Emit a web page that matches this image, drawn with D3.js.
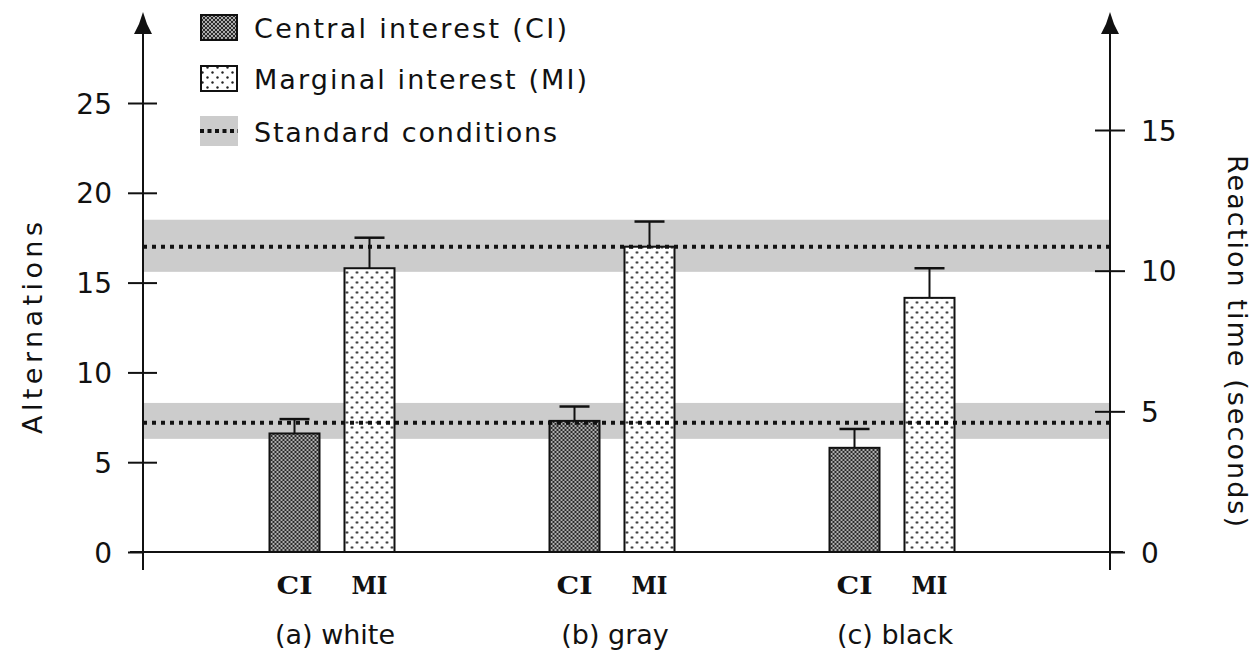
<!DOCTYPE html>
<html>
<head>
<meta charset="utf-8">
<script src="https://cdn.jsdelivr.net/npm/d3@7"></script>
<style>
  body { margin: 0; background: #fff; }
  text { font-family: "DejaVu Sans", sans-serif; fill: #111; }
</style>
</head>
<body>
<svg id="canvas"></svg>
<script>
const width = 1255;
const height = 655;

// data
const groups = ["(a) white", "(b) gray", "(c) black"];
const conditions = ["CI", "MI"];
const ciMeans = [6.6, 7.3, 5.8];
const ciErrors = [0.8, 0.8, 1.05];
const miMeans = [15.8, 17.0, 14.15];
const miErrors = [1.7, 1.4, 1.65];
const stdMeans = [17.0, 7.2];
const stdLow = [15.6, 6.3];
const stdHigh = [18.5, 8.3];
const leftTicks = [0, 5, 10, 15, 20, 25];
const rightTicks = [0, 5, 10, 15];
const legendLabels = ["Central interest (CI)", "Marginal interest (MI)", "Standard conditions"];

const svg = d3.select("#canvas")
  .attr("width", width)
  .attr("height", height);

const axisLeftX = 143, axisRightX = 1110, baseY = 552;

const y = d3.scaleLinear().domain([0, 25]).range([baseY, 103]);
const yRight = d3.scaleLinear().domain([0, 15]).range([baseY, 130]);

const x0 = d3.scaleBand().domain(groups).range([192, 1032]);
const x1 = d3.scaleBand().domain(conditions)
  .range([x0.bandwidth() / 2 - 62.5, x0.bandwidth() / 2 + 62.5])
  .paddingInner(1 / 3).paddingOuter(0);

// patterns
const defs = svg.append("defs");
const pCI = defs.append("pattern").attr("id", "pat-ci")
  .attr("patternUnits", "userSpaceOnUse").attr("width", 4).attr("height", 4);
pCI.append("rect").attr("width", 4).attr("height", 4).attr("fill", "#2a2a2a");
[[0, 0], [4, 0], [0, 4], [4, 4], [2, 2]].forEach(([cx, cy]) =>
  pCI.append("circle").attr("cx", cx).attr("cy", cy).attr("r", 1.05).attr("fill", "#cfcfcf"));

const pMI = defs.append("pattern").attr("id", "pat-mi")
  .attr("patternUnits", "userSpaceOnUse").attr("width", 10).attr("height", 10);
pMI.append("rect").attr("width", 10).attr("height", 10).attr("fill", "#fff");
[[2.5, 2.5], [7.5, 7.5]].forEach(([cx, cy]) =>
  pMI.append("circle").attr("cx", cx).attr("cy", cy).attr("r", 1.2).attr("fill", "#222"));

// standard condition bands
const std = stdMeans.map((m, i) => ({ m, lo: stdLow[i], hi: stdHigh[i] }));
svg.selectAll("rect.band").data(std).enter().append("rect")
  .attr("x", axisLeftX).attr("width", axisRightX - axisLeftX)
  .attr("y", d => y(d.hi)).attr("height", d => y(d.lo) - y(d.hi))
  .attr("fill", "#cccccc");

// bars
const rows = groups.flatMap((g, i) => [
  { g, c: "CI", v: ciMeans[i], e: ciErrors[i] },
  { g, c: "MI", v: miMeans[i], e: miErrors[i] }
]);

const bar = svg.selectAll("g.bar").data(rows).enter().append("g")
  .attr("transform", d => `translate(${x0(d.g) + x1(d.c)},0)`);

bar.append("line")
  .attr("x1", x1.bandwidth() / 2).attr("x2", x1.bandwidth() / 2)
  .attr("y1", d => y(d.v)).attr("y2", d => y(d.v + d.e))
  .attr("stroke", "#111").attr("stroke-width", 2);
bar.append("line")
  .attr("x1", x1.bandwidth() / 2 - 15).attr("x2", x1.bandwidth() / 2 + 15)
  .attr("y1", d => y(d.v + d.e)).attr("y2", d => y(d.v + d.e))
  .attr("stroke", "#111").attr("stroke-width", 2.5);

bar.append("rect")
  .attr("x", 0).attr("width", x1.bandwidth())
  .attr("y", d => y(d.v)).attr("height", d => baseY - y(d.v))
  .attr("fill", d => d.c === "CI" ? "url(#pat-ci)" : "url(#pat-mi)")
  .attr("stroke", "#111").attr("stroke-width", 2);

// dotted standard lines
svg.selectAll("line.std").data(std).enter().append("line")
  .attr("x1", axisLeftX).attr("x2", axisRightX)
  .attr("y1", d => y(d.m)).attr("y2", d => y(d.m))
  .attr("stroke", "#111").attr("stroke-width", 4).attr("stroke-dasharray", "4,5");

// baseline
svg.append("line").attr("x1", 130).attr("x2", 1123)
  .attr("y1", baseY).attr("y2", baseY).attr("stroke", "#111").attr("stroke-width", 2);

// axes
function drawAxis(ax, scale, ticks, side) {
  const g = svg.append("g").attr("transform", `translate(${ax},0)`);
  const axis = side === "left" ? d3.axisLeft(scale) : d3.axisRight(scale);
  axis.tickValues(ticks).tickSize(15).tickPadding(16).tickFormat(d3.format("d"));
  g.call(axis);
  g.select(".domain").remove();
  g.selectAll(".tick line")
    .attr("x1", side === "left" ? -15 : 15)
    .attr("x2", (d) => d === 0 ? 0 : (side === "left" ? 14 : -15))
    .attr("stroke", "#111").attr("stroke-width", 2);
  g.selectAll(".tick text")
    .style("font-family", "DejaVu Sans, sans-serif")
    .style("font-size", "28px").attr("fill", "#111")
    .attr("dy", "0.36em");
  g.append("line").attr("x1", 0).attr("x2", 0).attr("y1", 30).attr("y2", 570)
    .attr("stroke", "#111").attr("stroke-width", 2);
  g.append("path").attr("d", "M0,12 L-4,24 L-9,34 L9,34 L4,24 Z").attr("fill", "#111");
}
drawAxis(axisLeftX, y, leftTicks, "left");
drawAxis(axisRightX, yRight, rightTicks, "right");

// axis titles
svg.append("text").attr("transform", "translate(42,328) rotate(-90)")
  .attr("text-anchor", "middle").style("font-size", "27px")
  .attr("textLength", 212).attr("lengthAdjust", "spacing")
  .text("Alternations");
svg.append("text").attr("transform", "translate(1228,341) rotate(90)")
  .attr("text-anchor", "middle").style("font-size", "27px")
  .attr("textLength", 372).attr("lengthAdjust", "spacing")
  .text("Reaction time (seconds)");

// category labels
svg.selectAll("text.sub").data(rows).enter().append("text")
  .attr("x", d => x0(d.g) + x1(d.c) + x1.bandwidth() / 2)
  .attr("y", 594).attr("text-anchor", "middle")
  .style("font-family", "DejaVu Serif, serif").style("font-weight", "bold").style("font-size", "24px")
  .attr("textLength", 36).attr("lengthAdjust", "spacingAndGlyphs")
  .text(d => d.c);

svg.selectAll("text.grp").data(groups).enter().append("text")
  .attr("x", d => x0(d) + x0.bandwidth() / 2 + 3)
  .attr("y", 644).attr("text-anchor", "middle")
  .style("font-size", "27px")
  .text(d => d);

// legend
const legendY = [12, 63, 116];
const lg = svg.append("g");
lg.append("rect").attr("x", 201).attr("y", legendY[0] + 3).attr("width", 36).attr("height", 25)
  .attr("fill", "url(#pat-ci)").attr("stroke", "#111").attr("stroke-width", 2);
lg.append("rect").attr("x", 201).attr("y", legendY[1] + 3).attr("width", 36).attr("height", 25)
  .attr("fill", "url(#pat-mi)").attr("stroke", "#111").attr("stroke-width", 2);
lg.append("rect").attr("x", 200).attr("y", legendY[2]).attr("width", 38).attr("height", 30)
  .attr("fill", "#cccccc");
lg.append("line").attr("x1", 200).attr("x2", 238)
  .attr("y1", legendY[2] + 15).attr("y2", legendY[2] + 15)
  .attr("stroke", "#111").attr("stroke-width", 4).attr("stroke-dasharray", "4,3.5");

const legendWidths = [313, 333, 303];
lg.selectAll("text").data(legendLabels).enter().append("text")
  .attr("x", 254).attr("y", (d, i) => legendY[i] + 26)
  .style("font-size", "27px")
  .attr("textLength", (d, i) => legendWidths[i]).attr("lengthAdjust", "spacing")
  .text(d => d);
</script>
</body>
</html>
